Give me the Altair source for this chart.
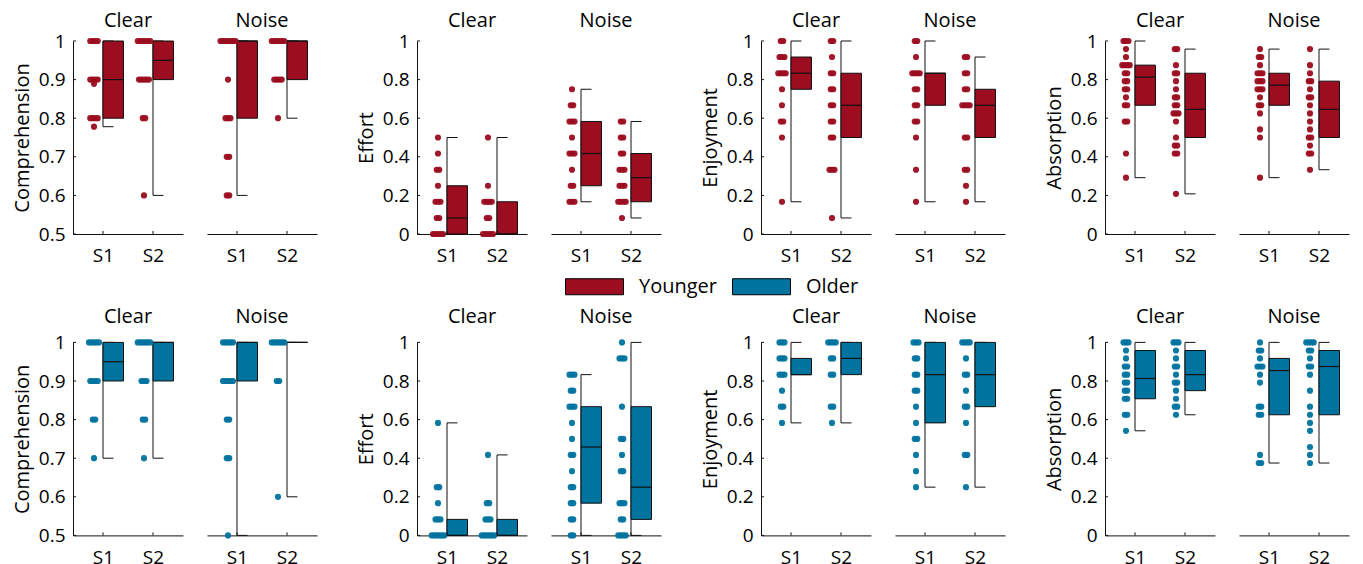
import altair as alt
import pandas as pd

# ---------------- data ----------------
GROUPS = ["Younger", "Older"]
GROUP_COLORS = ["#9B0D1F", "#00739F"]
METRICS = ["Comprehension", "Effort", "Enjoyment", "Absorption"]
CONDITIONS = ["Clear", "Noise"]
SESSIONS = [1, 2]                      # shown as S1, S2
COMP_TICKS = [0.5, 0.6, 0.7, 0.8, 0.9, 1.0]
RATING_TICKS = [0.0, 0.2, 0.4, 0.6, 0.8, 1.0]

# individual scores (dots)
YOUNGER_COMPREHENSION_DOTS = {
    "Clear S1": [1, 1, 1, 1, 0.9, 0.9, 0.9, 0.9, 0.889, 0.8, 0.8, 0.8, 0.8, 0.778],
    "Clear S2": [1, 1, 1, 1, 1, 1, 0.9, 0.9, 0.9, 0.9, 0.9, 0.8, 0.8, 0.6],
    "Noise S1": [1, 1, 1, 1, 1, 1, 1, 0.9, 0.8, 0.8, 0.8, 0.7, 0.7, 0.6, 0.6],
    "Noise S2": [1, 1, 1, 1, 1, 1, 0.9, 0.9, 0.9, 0.9, 0.8],
}
YOUNGER_EFFORT_DOTS = {
    "Clear S1": [0.5, 0.417, 0.333, 0.333, 0.25, 0.167, 0.167, 0.167, 0.083, 0.083, 0, 0, 0, 0, 0],
    "Clear S2": [0.5, 0.25, 0.167, 0.167, 0.167, 0.167, 0.083, 0.083, 0, 0, 0, 0, 0],
    "Noise S1": [0.75, 0.667, 0.667, 0.583, 0.583, 0.583, 0.5, 0.417, 0.417, 0.417, 0.333, 0.25, 0.25, 0.167, 0.167, 0.167],
    "Noise S2": [0.583, 0.583, 0.5, 0.5, 0.417, 0.417, 0.333, 0.333, 0.333, 0.25, 0.25, 0.25, 0.167, 0.167, 0.167, 0.167, 0.083],
}
YOUNGER_ENJOYMENT_DOTS = {
    "Clear S1": [1, 1, 0.917, 0.917, 0.917, 0.833, 0.833, 0.833, 0.833, 0.75, 0.667, 0.583, 0.583, 0.5, 0.167],
    "Clear S2": [1, 1, 0.917, 0.833, 0.833, 0.75, 0.75, 0.667, 0.667, 0.583, 0.583, 0.5, 0.5, 0.333, 0.333, 0.333, 0.083],
    "Noise S1": [1, 1, 0.917, 0.833, 0.833, 0.833, 0.833, 0.75, 0.75, 0.667, 0.667, 0.583, 0.583, 0.5, 0.333, 0.167],
    "Noise S2": [0.917, 0.917, 0.833, 0.833, 0.75, 0.75, 0.667, 0.667, 0.667, 0.667, 0.5, 0.5, 0.333, 0.333, 0.25, 0.167],
}
YOUNGER_ABSORPTION_DOTS = {
    "Clear S1": [1, 1, 1, 0.958, 0.917, 0.875, 0.875, 0.875, 0.875, 0.833, 0.833, 0.792, 0.792, 0.75, 0.75,
                 0.708, 0.667, 0.667, 0.583, 0.583, 0.417, 0.292],
    "Clear S2": [0.958, 0.958, 0.875, 0.833, 0.833, 0.792, 0.75, 0.708, 0.708, 0.667, 0.667, 0.625, 0.625, 0.625,
                 0.583, 0.5, 0.458, 0.458, 0.417, 0.417, 0.208],
    "Noise S1": [0.958, 0.917, 0.917, 0.875, 0.833, 0.833, 0.833, 0.792, 0.792, 0.792, 0.75, 0.75, 0.75, 0.708,
                 0.667, 0.667, 0.625, 0.542, 0.5, 0.292],
    "Noise S2": [0.958, 0.875, 0.833, 0.792, 0.792, 0.75, 0.708, 0.708, 0.667, 0.625, 0.583, 0.542, 0.5, 0.5,
                 0.458, 0.417, 0.417, 0.333],
}
OLDER_COMPREHENSION_DOTS = {
    "Clear S1": [1, 1, 1, 1, 1, 0.9, 0.9, 0.9, 0.9, 0.8, 0.8, 0.7],
    "Clear S2": [1, 1, 1, 1, 1, 1, 0.9, 0.9, 0.9, 0.8, 0.8, 0.7],
    "Noise S1": [1, 1, 1, 1, 1, 0.9, 0.9, 0.9, 0.9, 0.9, 0.8, 0.8, 0.7, 0.7, 0.5],
    "Noise S2": [1, 1, 1, 1, 1, 1, 0.9, 0.9, 0.6],
}
OLDER_EFFORT_DOTS = {
    "Clear S1": [0.583, 0.25, 0.25, 0.167, 0.083, 0.083, 0.083, 0, 0, 0, 0, 0, 0],
    "Clear S2": [0.417, 0.167, 0.167, 0.083, 0.083, 0.083, 0, 0, 0, 0, 0, 0],
    "Noise S1": [0.833, 0.833, 0.833, 0.75, 0.75, 0.667, 0.667, 0.667, 0.583, 0.5, 0.417, 0.417, 0.333,
                 0.25, 0.25, 0.167, 0.167, 0.083, 0.083, 0, 0],
    "Noise S2": [1, 0.917, 0.917, 0.917, 0.667, 0.5, 0.5, 0.417, 0.333, 0.333, 0.167, 0.167, 0.167,
                 0.083, 0.083, 0, 0, 0, 0],
}
OLDER_ENJOYMENT_DOTS = {
    "Clear S1": [1, 1, 1, 0.917, 0.917, 0.917, 0.833, 0.833, 0.833, 0.75, 0.667, 0.667, 0.583],
    "Clear S2": [1, 1, 1, 1, 0.917, 0.917, 0.833, 0.833, 0.667, 0.667, 0.583],
    "Noise S1": [1, 1, 1, 0.917, 0.917, 0.833, 0.833, 0.75, 0.75, 0.667, 0.583, 0.5, 0.5, 0.417, 0.333, 0.25],
    "Noise S2": [1, 1, 1, 1, 0.917, 0.833, 0.833, 0.75, 0.667, 0.667, 0.583, 0.417, 0.417, 0.25],
}
OLDER_ABSORPTION_DOTS = {
    "Clear S1": [1, 1, 1, 0.958, 0.917, 0.875, 0.875, 0.833, 0.833, 0.792, 0.792, 0.75, 0.75, 0.708, 0.708,
                 0.625, 0.625, 0.542],
    "Clear S2": [1, 1, 1, 0.958, 0.917, 0.875, 0.875, 0.833, 0.792, 0.792, 0.75, 0.708, 0.667, 0.667, 0.625],
    "Noise S1": [1, 0.958, 0.958, 0.917, 0.875, 0.875, 0.875, 0.833, 0.792, 0.667, 0.667, 0.625, 0.625,
                 0.417, 0.375, 0.375],
    "Noise S2": [1, 1, 1, 1, 0.958, 0.958, 0.917, 0.875, 0.875, 0.833, 0.75, 0.667, 0.625, 0.583, 0.542,
                 0.458, 0.417, 0.375],
}

# box statistics: (whisker low, q1, median, q3, whisker high)
YOUNGER_COMPREHENSION_BOX = {"Clear S1": (0.778, 0.8, 0.9, 1, 1), "Clear S2": (0.6, 0.9, 0.95, 1, 1),
                             "Noise S1": (0.6, 0.8, 1, 1, 1), "Noise S2": (0.8, 0.9, 1, 1, 1)}
YOUNGER_EFFORT_BOX = {"Clear S1": (0, 0, 0.083, 0.25, 0.5), "Clear S2": (0, 0, 0, 0.167, 0.5),
                      "Noise S1": (0.167, 0.25, 0.417, 0.583, 0.75), "Noise S2": (0.083, 0.167, 0.292, 0.417, 0.583)}
YOUNGER_ENJOYMENT_BOX = {"Clear S1": (0.167, 0.75, 0.833, 0.917, 1), "Clear S2": (0.083, 0.5, 0.667, 0.833, 1),
                         "Noise S1": (0.167, 0.667, 0.833, 0.833, 1), "Noise S2": (0.167, 0.5, 0.667, 0.75, 0.917)}
YOUNGER_ABSORPTION_BOX = {"Clear S1": (0.292, 0.667, 0.813, 0.875, 1), "Clear S2": (0.208, 0.5, 0.646, 0.833, 0.958),
                          "Noise S1": (0.292, 0.667, 0.771, 0.833, 0.958), "Noise S2": (0.333, 0.5, 0.646, 0.792, 0.958)}
OLDER_COMPREHENSION_BOX = {"Clear S1": (0.7, 0.9, 0.95, 1, 1), "Clear S2": (0.7, 0.9, 1, 1, 1),
                           "Noise S1": (0.5, 0.9, 1, 1, 1), "Noise S2": (0.6, 1, 1, 1, 1)}
OLDER_EFFORT_BOX = {"Clear S1": (0, 0, 0, 0.083, 0.583), "Clear S2": (0, 0, 0, 0.083, 0.417),
                    "Noise S1": (0, 0.167, 0.458, 0.667, 0.833), "Noise S2": (0, 0.083, 0.25, 0.667, 1)}
OLDER_ENJOYMENT_BOX = {"Clear S1": (0.583, 0.833, 0.833, 0.917, 1), "Clear S2": (0.583, 0.833, 0.917, 1, 1),
                       "Noise S1": (0.25, 0.583, 0.833, 1, 1), "Noise S2": (0.25, 0.667, 0.833, 1, 1)}
OLDER_ABSORPTION_BOX = {"Clear S1": (0.542, 0.708, 0.813, 0.958, 1), "Clear S2": (0.625, 0.75, 0.833, 0.958, 1),
                        "Noise S1": (0.375, 0.625, 0.854, 0.917, 1), "Noise S2": (0.375, 0.625, 0.875, 0.958, 1)}

DOTS = {
    ("Younger", "Comprehension"): YOUNGER_COMPREHENSION_DOTS, ("Younger", "Effort"): YOUNGER_EFFORT_DOTS,
    ("Younger", "Enjoyment"): YOUNGER_ENJOYMENT_DOTS, ("Younger", "Absorption"): YOUNGER_ABSORPTION_DOTS,
    ("Older", "Comprehension"): OLDER_COMPREHENSION_DOTS, ("Older", "Effort"): OLDER_EFFORT_DOTS,
    ("Older", "Enjoyment"): OLDER_ENJOYMENT_DOTS, ("Older", "Absorption"): OLDER_ABSORPTION_DOTS,
}
BOXES = {
    ("Younger", "Comprehension"): YOUNGER_COMPREHENSION_BOX, ("Younger", "Effort"): YOUNGER_EFFORT_BOX,
    ("Younger", "Enjoyment"): YOUNGER_ENJOYMENT_BOX, ("Younger", "Absorption"): YOUNGER_ABSORPTION_BOX,
    ("Older", "Comprehension"): OLDER_COMPREHENSION_BOX, ("Older", "Effort"): OLDER_EFFORT_BOX,
    ("Older", "Enjoyment"): OLDER_ENJOYMENT_BOX, ("Older", "Absorption"): OLDER_ABSORPTION_BOX,
}

dot_rows, box_rows = [], []
for (g, m), d in DOTS.items():
    for key, vals in d.items():
        cond, sess = key.split()
        for v in vals:
            dot_rows.append({"group": g, "metric": m, "cond": cond, "s": int(sess[1]), "value": float(v)})
for (g, m), d in BOXES.items():
    for key, (lo, q1, med, q3, hi) in d.items():
        cond, sess = key.split()
        box_rows.append({"group": g, "metric": m, "cond": cond, "s": int(sess[1]),
                         "low": lo, "q1": q1, "med": med, "q3": q3, "high": hi})
dots_df = pd.DataFrame(dot_rows)
box_df = pd.DataFrame(box_rows)
sess_df = pd.DataFrame({"s": SESSIONS})

# ---------------- styling ----------------
FONT = "Open Sans"
W, H = 110, 193
PAIR_GAP = 24          # between the Clear and Noise panels of one measure
GROUP_GAP = 99.5       # between one measure's Noise panel and the next measure
BOX_W = 0.41     # box width in session units
CAP_W = 0.21     # whisker cap length
DOT_X = 0.18     # dots sit left of the session tick
DODGE = 0.05     # spacing between tied dots
LINE = "#111111"

COLOR_SCALE = alt.Scale(domain=GROUPS, range=GROUP_COLORS)
LEGEND = alt.Legend(title=None, orient="none", direction="horizontal", legendX=492, legendY=216,
                    symbolType="M-1,-0.276H1V0.276H-1Z", symbolSize=3364, symbolStrokeColor="black",
                    symbolStrokeWidth=1, symbolOpacity=1, labelFontSize=20, labelFont=FONT, labelColor="black",
                    labelOffset=15, columnPadding=12)


def panel(group, metric, cond, title_offset, xlab_pad):
    ticks = COMP_TICKS if metric == "Comprehension" else RATING_TICKS
    ysc = alt.Scale(domain=[ticks[0], ticks[-1]], nice=False, zero=False)
    xsc = alt.Scale(domain=[0.4, 2.6], nice=False, zero=False)
    xaxis = alt.Axis(values=SESSIONS, labelExpr="'S' + datum.value", title=None, ticks=False, tickSize=0,
                     grid=False, labelPadding=xlab_pad, labelFontSize=19, labelAngle=0)
    if cond == "Clear":
        yaxis = alt.Axis(values=ticks, format="~g", title=metric, grid=False, ticks=False, tickSize=0,
                         labelPadding=8, titlePadding=6, labelFontSize=19, titleFontSize=20,
                         titleFontWeight="normal")
    else:
        # hidden axis: keeps the panel's top extent equal to the Clear panel's so titles line up
        yaxis = alt.Axis(values=ticks, format="~g", title=None, grid=False, ticks=False, tickSize=0,
                         domain=False, labelPadding=8, labelFontSize=19, labelOpacity=0)

    def X(f):
        return alt.X(f, type="quantitative", scale=xsc, axis=xaxis)

    def Y(f):
        return alt.Y(f, type="quantitative", scale=ysc, axis=yaxis)

    filt = (alt.datum.group == group) & (alt.datum.metric == metric) & (alt.datum.cond == cond)
    bx = alt.Chart(box_df).transform_filter(filt).transform_calculate(
        xb=f"datum.s + {BOX_W}", xc=f"datum.s + {CAP_W}")
    whisker = bx.mark_rule(color=LINE, strokeWidth=1).encode(x=X("s"), y=Y("low"), y2="high")
    cap_lo = bx.mark_rule(color=LINE, strokeWidth=1).encode(x=X("s"), x2="xc:Q", y=Y("low"))
    cap_hi = bx.mark_rule(color=LINE, strokeWidth=1).encode(x=X("s"), x2="xc:Q", y=Y("high"))
    box = bx.mark_rect(stroke=LINE, strokeWidth=1, opacity=1).encode(
        x=X("s"), x2="xb:Q", y=Y("q1"), y2="q3",
        color=alt.Color("group:N", scale=COLOR_SCALE, legend=LEGEND))
    med = bx.mark_rule(color=LINE, strokeWidth=1.2).encode(x=X("s"), x2="xb:Q", y=Y("med"))

    dt = (alt.Chart(dots_df).transform_filter(filt)
          .transform_window(rk="row_number()", groupby=["s", "value"])
          .transform_joinaggregate(n="count()", groupby=["s", "value"])
          .transform_calculate(xd=f"datum.s - {DOT_X} + (datum.rk - (datum.n + 1) / 2) * {DODGE}"))
    dots = dt.mark_circle(size=38, opacity=0.95).encode(
        x=X("xd"), y=Y("value"), color=alt.Color("group:N", scale=COLOR_SCALE, legend=None))

    xt = alt.Chart(sess_df).mark_rule(color=LINE, strokeWidth=1).encode(
        x=X("s"), y=alt.value(H), y2=alt.value(H - 3))
    layers = [whisker, cap_lo, cap_hi, box, med, dots, xt]
    if cond == "Clear":
        yt = alt.Chart(pd.DataFrame({"t": ticks})).mark_rule(color=LINE, strokeWidth=1).encode(
            x=alt.value(0), x2=alt.value(3), y=Y("t"))
        layers.append(yt)
    return alt.layer(*layers).properties(
        width=W, height=H,
        title=alt.TitleParams(cond, offset=title_offset, fontSize=20, fontWeight="normal", font=FONT,
                              anchor="middle", color="black"))


def spacer():
    return alt.Chart(sess_df).mark_point(opacity=0).encode(
        x=alt.X("s:Q", axis=None), y=alt.Y("s:Q", axis=None)
    ).properties(width=GROUP_GAP - 2 * PAIR_GAP, height=H)


cells = []
for group, t_off, x_pad in [("Younger", 1, 12.5), ("Older", 6, 13)]:
    for i, m in enumerate(METRICS):
        if i > 0:
            cells.append(spacer())
        for c in CONDITIONS:
            cells.append(panel(group, m, c, t_off, x_pad))

chart = alt.concat(
    *cells, columns=11, spacing={"row": 108.4, "column": PAIR_GAP}, bounds="flush"
).properties(
    padding={"left": 12, "top": 11, "right": 5, "bottom": 0}
).configure_view(stroke=None).configure_axis(
    domainColor=LINE, domainWidth=1, labelColor="black", titleColor="black",
    labelFont=FONT, titleFont=FONT
).configure_legend(labelFont=FONT)

chart.save("out.html", embed_options={"renderer": "svg", "actions": False})
